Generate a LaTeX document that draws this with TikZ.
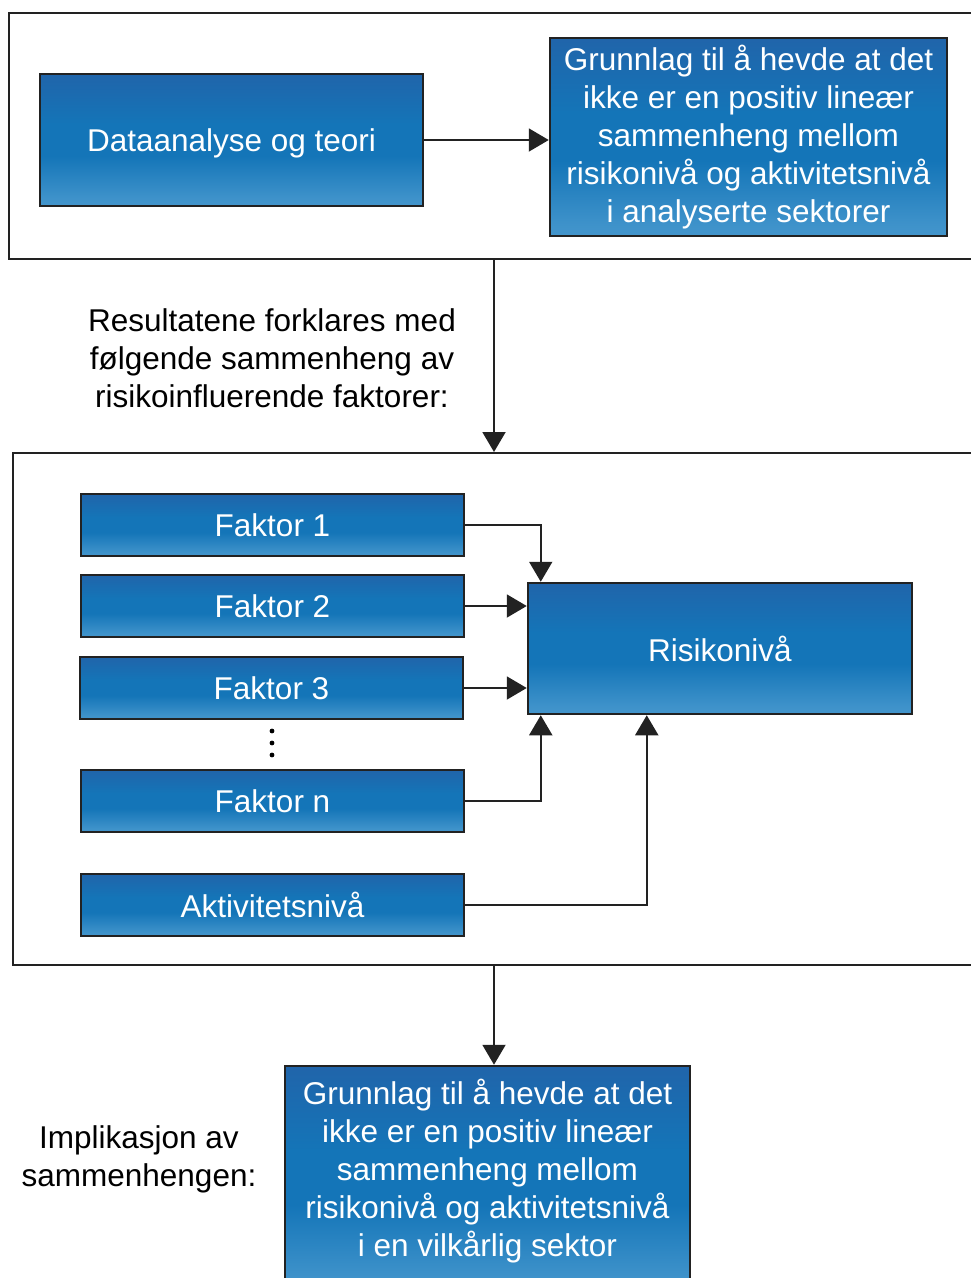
\documentclass[tikz,border=0pt]{standalone}
\usepackage{fontspec}
\setmainfont{Liberation Sans}
\usetikzlibrary{arrows.meta}
\definecolor{bTop}{RGB}{26,82,156}
\definecolor{bUp}{RGB}{34,98,168}
\definecolor{bMid}{RGB}{20,117,184}
\definecolor{bLow}{RGB}{62,146,202}
\definecolor{bBot}{RGB}{110,176,218}
\definecolor{lineC}{RGB}{34,34,34}
\pgfdeclareverticalshading{boxshade}{100bp}{color(0bp)=(bBot); color(28bp)=(bLow); color(44bp)=(bMid); color(56bp)=(bMid); color(78bp)=(bUp); color(100bp)=(bTop)}
\newcommand\mybodyfont{\fontsize{31.5}{38}\selectfont}
\begin{document}
\begin{tikzpicture}[x=1pt,y=-1pt,
  frame/.style={draw=lineC, line width=2pt, inner sep=0pt},
  bluebox/.style={draw=lineC, line width=2.5pt, shading=boxshade, text=white, font=\mybodyfont, align=center, inner sep=0pt},
  plain/.style={text=black, font=\mybodyfont, align=center, inner sep=0pt},
  arr/.style={draw=lineC, line width=2pt, -{Triangle[length=20pt,width=23pt]}}]
\useasboundingbox (0,0) rectangle (970,1278);
% outer frames
\node[frame, minimum width=966, minimum height=246] (top) at (492,136) {};
\node[frame, minimum width=962, minimum height=512] (mid) at (494,709) {};
\coordinate (ax) at (494,0);
% top section
\node[bluebox, minimum width=383, minimum height=132, text depth=0pt] (dat) at (231.5,140) {Dataanalyse og teori};
\node[bluebox, minimum width=397, minimum height=198] (gr1) at (748.5,137) {Grunnlag til å hevde at det\\ikke er en positiv lineær\\sammenheng mellom\\risikonivå og aktivitetsnivå\\i analyserte sektorer};
\draw[arr] (dat.east) -- (dat.east -| gr1.west);
% label
\node[plain] (res) at (272,358) {Resultatene forklares med\\følgende sammenheng av\\risikoinfluerende faktorer:};
\draw[arr] (top.south -| ax) -- (mid.north -| ax);
% middle section
\node[bluebox, minimum width=383, minimum height=62] (f1) at (272.5,525) {Faktor 1};
\node[bluebox, minimum width=383, minimum height=62] (f2) at (272.5,606) {Faktor 2};
\node[bluebox, minimum width=383, minimum height=62] (f3) at (271.5,688) {Faktor 3};
\node[bluebox, minimum width=383, minimum height=62] (fn) at (272.5,801) {Faktor n};
\node[bluebox, minimum width=383, minimum height=62] (akt) at (272.5,905) {Aktivitetsnivå};
\node[bluebox, minimum width=384, minimum height=131] (risk) at (720,648.5) {Risikonivå};
\foreach \yy in {731,743,755} \fill[black] (272,\yy) circle (2.4);
\draw[arr] (f1.east) -| ([xshift=14pt]risk.north west);
\draw[arr] (f2.east) -- (f2.east -| risk.west);
\draw[arr] (f3.east) -- (f3.east -| risk.west);
\draw[arr] (fn.east) -| ([xshift=14pt]risk.south west);
\draw[arr] (akt.east) -| ([xshift=120pt]risk.south west);
% bottom section
\node[bluebox, minimum width=405, minimum height=224] (bot) at (487.5,1178) {};
\node[text=white, font=\mybodyfont, align=center, inner sep=0pt] (botT) at (487.5,1171) {Grunnlag til å hevde at det\\ikke er en positiv lineær\\sammenheng mellom\\risikonivå og aktivitetsnivå\\i en vilkårlig sektor};
\draw[arr] (mid.south -| ax) -- (bot.north -| ax);
\node[plain] (impl) at (139,1159) {Implikasjon av\\sammenhengen:};
\end{tikzpicture}
\end{document}
